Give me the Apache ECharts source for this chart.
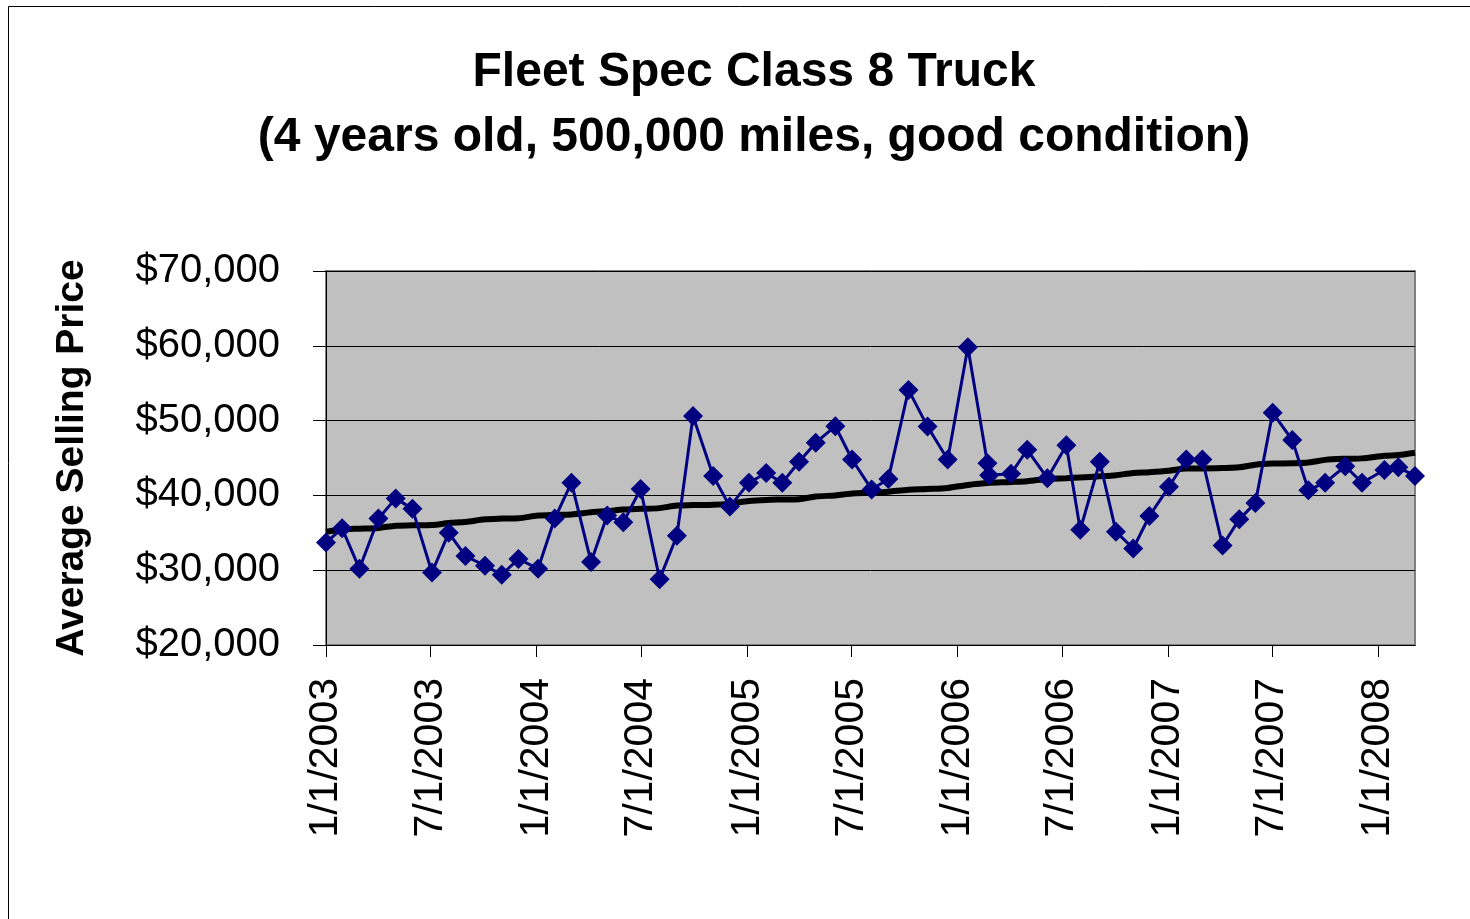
<!DOCTYPE html>
<html>
<head>
<meta charset="utf-8">
<title>Fleet Spec Class 8 Truck</title>
<script src="https://cdn.jsdelivr.net/npm/echarts@6/dist/echarts.min.js"></script>
<style>
    html, body { margin: 0; padding: 0; background: #fff; }
    #chart { width: 1470px; height: 919px; }
</style>
</head>
<body>
<div id="chart"></div>
<script>
// Sale dates and average selling prices
const saleDates = [
    '2003-01-01', '2003-01-29', '2003-02-28', '2003-04-02', '2003-05-02', '2003-05-31',
    '2003-07-04', '2003-08-02', '2003-08-31', '2003-10-04', '2003-11-02', '2003-12-01',
    '2004-01-04', '2004-02-02', '2004-03-02', '2004-04-05', '2004-05-03', '2004-05-31',
    '2004-06-30', '2004-08-02', '2004-09-01', '2004-09-29', '2004-11-03', '2004-12-02',
    '2005-01-04', '2005-02-03', '2005-03-03', '2005-04-01', '2005-04-30', '2005-06-03',
    '2005-07-02', '2005-08-05', '2005-09-03', '2005-10-08', '2005-11-10', '2005-12-15',
    '2006-01-19', '2006-02-22', '2006-02-25', '2006-04-04', '2006-05-02', '2006-06-06',
    '2006-07-09', '2006-08-02', '2006-09-05', '2006-10-03', '2006-11-02', '2006-11-30',
    '2007-01-03', '2007-02-02', '2007-03-02', '2007-04-06', '2007-05-05', '2007-06-02',
    '2007-07-02', '2007-08-05', '2007-09-02', '2007-10-01', '2007-11-05', '2007-12-04',
    '2008-01-12', '2008-02-05', '2008-03-05'
];

const avgPrice = [
    33700, 35600, 30200, 36900, 39600, 38200,
    29700, 35000, 31900, 30600, 29400, 31500,
    30200, 36900, 41700, 31100, 37300, 36400,
    40850, 28800, 34600, 50600, 42600, 38500,
    41700, 43000, 41700, 44500, 47050, 49250,
    44800, 40800, 42200, 54100, 49200, 44800,
    59800, 44300, 42700, 42900, 46100, 42300,
    46700, 35400, 44500, 35150, 32900, 37250,
    41150, 44800, 44800, 33300, 36800, 39000,
    51050, 47400, 40700, 41700, 43900, 41700,
    43400, 43750, 42600
];

// Black trend line, read at the same dates
const trendPrice = [
    35150, 35450, 35550, 35650, 35950, 36000,
    36050, 36300, 36450, 36800, 36900, 36950,
    37300, 37400, 37450, 37750, 37900, 38100,
    38200, 38300, 38650, 38700, 38750, 38900,
    39250, 39400, 39450, 39500, 39850, 40000,
    40250, 40350, 40500, 40750, 40850, 41000,
    41400, 41650, 41700, 41800, 41900, 42200,
    42300, 42400, 42550, 42700, 43000, 43100,
    43300, 43600, 43600, 43650, 43750, 44100,
    44250, 44300, 44400, 44750, 44900, 44950,
    45300, 45400, 45700
];

// Date axis labels, every six months
const tickDates = [
    '2003-01-01', '2003-07-01', '2004-01-01', '2004-07-01', '2005-01-01', '2005-07-01',
    '2006-01-01', '2006-07-01', '2007-01-01', '2007-07-01', '2008-01-01'
];

const priceTicks = [20000, 30000, 40000, 50000, 60000, 70000];

function toTime(str) {
    const p = str.split('-').map(Number);
    return new Date(p[0], p[1] - 1, p[2]).getTime();
}

function formatDate(value) {
    const d = new Date(value);
    return (d.getMonth() + 1) + '/' + d.getDate() + '/' + d.getFullYear();
}

function formatMoney(value) {
    return '$' + String(value).replace(/\B(?=(\d{3})+(?!\d))/g, ',');
}

const FONT = '"Liberation Sans", Arial, sans-serif';

const chart = echarts.init(document.getElementById('chart'));

const option = {
    backgroundColor: '#ffffff',
    animation: false,
    textStyle: { fontFamily: FONT },
    title: {
        text: 'Fleet Spec Class 8 Truck\n(4 years old, 500,000 miles, good condition)',
        left: 749,
        textAlign: 'center',
        top: 35,
        textStyle: {
            fontFamily: FONT,
            fontSize: 48,
            fontWeight: 'bold',
            color: '#000',
            lineHeight: 65
        }
    },
    graphic: [{
        type: 'rect',
        shape: { x: 8.5, y: 6.5, width: 1500, height: 1000 },
        style: { fill: 'none', stroke: '#000', lineWidth: 1 },
        silent: true
    }],
    grid: {
        left: 326,
        right: 55,
        top: 271,
        bottom: 274,
        show: true,
        backgroundColor: '#c0c0c0',
        borderColor: '#808080',
        borderWidth: 2
    },
    xAxis: {
        type: 'value',
        min: toTime(saleDates[0]),
        max: toTime(saleDates[saleDates.length - 1]),
        axisLine: { lineStyle: { color: '#000', width: 1 } },
        axisTick: {
            length: 12,
            lineStyle: { color: '#000' },
            customValues: tickDates.map(toTime)
        },
        axisLabel: {
            rotate: 90,
            margin: 33,
            fontSize: 41,
            color: '#000',
            fontFamily: FONT,
            customValues: tickDates.map(toTime),
            formatter: formatDate
        },
        splitLine: { show: false }
    },
    yAxis: {
        type: 'value',
        min: priceTicks[0],
        max: priceTicks[priceTicks.length - 1],
        interval: 10000,
        name: 'Average Selling Price',
        nameLocation: 'middle',
        nameRotate: 90,
        nameGap: 234,
        nameTextStyle: {
            fontFamily: FONT,
            fontSize: 39,
            fontWeight: 'bold',
            color: '#000'
        },
        axisLine: { show: true, lineStyle: { color: '#000', width: 1 } },
        axisTick: { show: true, length: 13, lineStyle: { color: '#000' } },
        axisLabel: {
            margin: 46,
            fontSize: 40,
            color: '#000',
            fontFamily: FONT,
            formatter: formatMoney
        },
        splitLine: { show: true, lineStyle: { color: '#000', width: 1 } }
    },
    series: [
        {
            name: 'Trend',
            type: 'line',
            data: saleDates.map((d, i) => [toTime(d), trendPrice[i]]),
            showSymbol: false,
            smooth: 0.3,
            lineStyle: { color: '#000', width: 6 },
            z: 2
        },
        {
            name: 'Average Selling Price',
            type: 'line',
            data: saleDates.map((d, i) => [toTime(d), avgPrice[i]]),
            symbol: 'diamond',
            symbolSize: 20,
            itemStyle: { color: '#000080' },
            lineStyle: { color: '#000080', width: 3 },
            z: 3
        }
    ]
};

chart.setOption(option);
</script>
</body>
</html>
